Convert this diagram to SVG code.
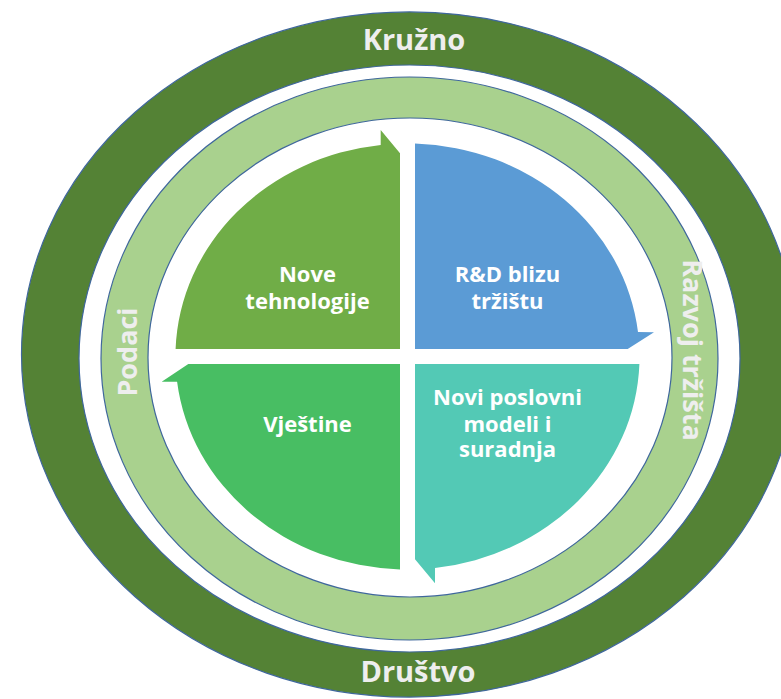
<svg xmlns="http://www.w3.org/2000/svg" width="781" height="699" viewBox="0 0 781 699">
<style>
.ring{fill-rule:evenodd;stroke:#3F679C;stroke-width:1.2}
.rt{font-family:"Open Sans","Liberation Sans",sans-serif;font-weight:bold;fill:#EEEEEE;text-anchor:middle}
.qt{font-family:"Open Sans","Liberation Sans",sans-serif;font-weight:bold;font-size:22px;fill:#FFFFFF;text-anchor:middle}
</style>
<rect width="781" height="699" fill="#FFFFFF"/>
<g id="ring-outer">
<path class="ring" fill="#548235" d="M21.5 354.5A388 342.5 0 1 0 797.5 354.5A388 342.5 0 1 0 21.5 354.5ZM79 358.5A330.5 293.5 0 1 0 740 358.5A330.5 293.5 0 1 0 79 358.5Z"/>
<text class="rt" x="414" y="50" font-size="29">Kružno</text>
<text class="rt" x="418" y="682" font-size="29">Društvo</text>
</g>
<g id="ring-inner">
<path class="ring" fill="#A9D18E" d="M101 358.5A308.5 281.5 0 1 0 718 358.5A308.5 281.5 0 1 0 101 358.5ZM148 357.5A262 239.5 0 1 0 672 357.5A262 239.5 0 1 0 148 357.5Z"/>
<text class="rt" font-size="27" transform="translate(137 352) rotate(-90)">Podaci</text>
<text class="rt" font-size="27" transform="translate(683 350) rotate(90)">Razvoj tržišta</text>
</g>
<g id="q-nove-tehnologije">
<path fill="#70AD47" d="M400 349L175.6 349A232 213 0 0 1 380.7 144.9L380.7 130L400 153.3Z"/>
<text class="qt" x="307.5" y="282">Nove</text>
<text class="qt" x="307.5" y="309">tehnologije</text>
</g>
<g id="q-rd">
<path fill="#5B9BD5" d="M415 349L415 143.6A232 213 0 0 1 638 332L654 332.3L627.7 349Z"/>
<text class="qt" x="507.5" y="282">R&amp;D blizu</text>
<text class="qt" x="507.5" y="309">tržištu</text>
</g>
<g id="q-poslovni">
<path fill="#53C9B5" d="M415 364L639.4 364A232 213 0 0 1 435 568L435 583.3L415 559.3Z"/>
<text class="qt" x="507.5" y="405">Novi poslovni</text>
<text class="qt" x="507.5" y="431.5">modeli i</text>
<text class="qt" x="507.5" y="457">suradnja</text>
</g>
<g id="q-vjestine">
<path fill="#48BE63" d="M400 364L400 569.4A232 213 0 0 1 177.1 381.7L161.7 381.7L188.3 364Z"/>
<text class="qt" x="307.5" y="431.5">Vještine</text>
</g>
<g id="connectors"/>
</svg>
